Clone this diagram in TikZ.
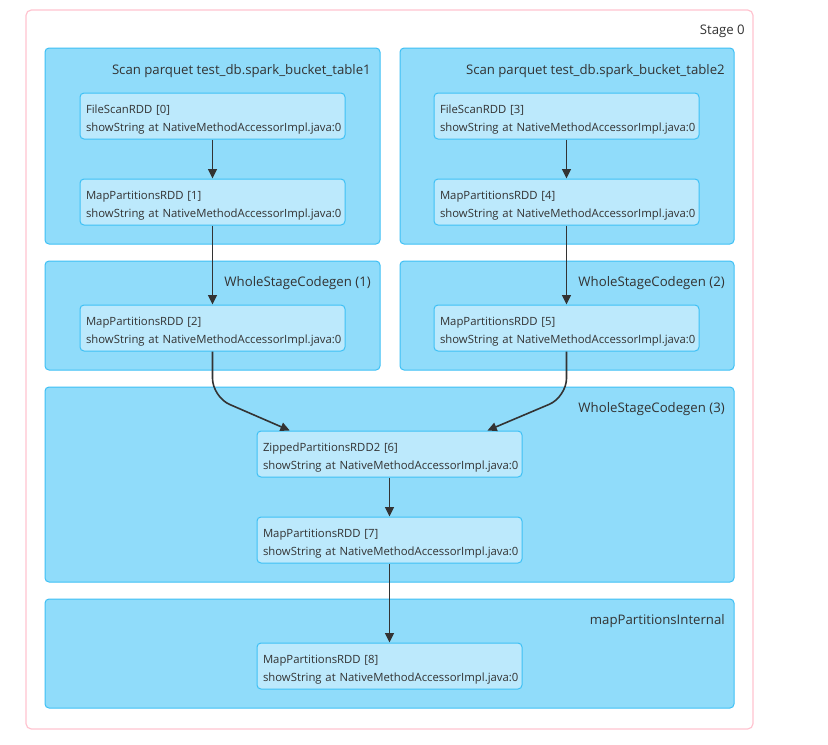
\documentclass[tikz,border=0pt]{standalone}
\usepackage{fontspec}
\setmainfont{Open Sans}
\usetikzlibrary{arrows.meta,calc}
\definecolor{clusterfill}{HTML}{90DCFA}
\definecolor{rddfill}{HTML}{BCE9FC}
\definecolor{rddline}{HTML}{3EC0F5}
\definecolor{stageline}{HTML}{FFC4D0}
\definecolor{txt}{HTML}{333333}
\definecolor{edgec}{HTML}{333333}
\newcommand{\rddtext}[1]{\rule{0pt}{11.5pt}\mbox{#1}\\\mbox{showString at NativeMethodAccessorImpl.java:0}}
\begin{document}
\begin{tikzpicture}[x=0.75pt,y=-0.75pt,
  stagebox/.style={draw=stageline, rounded corners=4pt, line width=0.9pt},
  cluster/.style={draw=rddline, fill=clusterfill, rounded corners=3pt, line width=0.75pt},
  rdd/.style={draw=rddline, fill=rddfill, rounded corners=3pt, line width=0.75pt,
    minimum width=198.75pt, minimum height=34.5pt, text width=189.75pt, align=left,
    inner xsep=4.5pt, inner ysep=0pt, font=\fontsize{8.5pt}{13.5pt}\selectfont, text=txt},
  lbl/.style={anchor=base east, font=\fontsize{9.9pt}{12pt}\selectfont, text=txt, inner sep=0pt},
  edge/.style={draw=edgec, line width=1.2pt, -{Triangle[length=7pt,width=6.5pt]}}]
\useasboundingbox (0,0) rectangle (828,744);
\fill[white] (0,0) rectangle (828,744);
% stage
\draw[stagebox] (26,10) rectangle (753,729);
\node[lbl] (stagelbl) at (745,34) {Stage 0};
% clusters
\draw[cluster] (45,48) rectangle (380,244);
\node[lbl] (c1lbl) at (371,74) {Scan parquet test\_db.spark\_bucket\_table1};
\draw[cluster] (400,48) rectangle (734,244);
\node[lbl] (c2lbl) at (725,74) {Scan parquet test\_db.spark\_bucket\_table2};
\draw[cluster] (45,261) rectangle (380,370);
\node[lbl] (w1lbl) at (371,286) {WholeStageCodegen (1)};
\draw[cluster] (400,261) rectangle (734,370);
\node[lbl] (w2lbl) at (725,286) {WholeStageCodegen (2)};
\draw[cluster] (45,387) rectangle (734,582);
\node[lbl] (w3lbl) at (725,412) {WholeStageCodegen (3)};
\draw[cluster] (45,599) rectangle (734,708);
\node[lbl] (mplbl) at (725,624) {mapPartitionsInternal};
% rdd nodes
\node[rdd] (n0) at (212.5,116) {\rddtext{FileScanRDD [0]}};
\node[rdd] (n1) at (212.5,202) {\rddtext{MapPartitionsRDD [1]}};
\node[rdd] (n2) at (212.5,328) {\rddtext{MapPartitionsRDD [2]}};
\node[rdd] (n3) at (566.5,116) {\rddtext{FileScanRDD [3]}};
\node[rdd] (n4) at (566.5,202) {\rddtext{MapPartitionsRDD [4]}};
\node[rdd] (n5) at (566.5,328) {\rddtext{MapPartitionsRDD [5]}};
\node[rdd] (n6) at (389.5,454) {\rddtext{ZippedPartitionsRDD2 [6]}};
\node[rdd] (n7) at (389.5,540) {\rddtext{MapPartitionsRDD [7]}};
\node[rdd] (n8) at (389.5,666) {\rddtext{MapPartitionsRDD [8]}};
% edges
\draw[edge] (n0) -- (n1);
\draw[edge] (n1) -- (n2);
\draw[edge] (n3) -- (n4);
\draw[edge] (n4) -- (n5);
\draw[edge] (n6) -- (n7);
\draw[edge] (n7) -- (n8);
\coordinate (bendL) at (212.5,397);
\coordinate (bendR) at (566.5,397);
\coordinate (inL) at ($(n6.north west)!0.125!(n6.north east)$);
\coordinate (inR) at ($(n6.north west)!0.868!(n6.north east)$);
\draw[edge, rounded corners=14pt] (n2.south) -- (bendL) -- (inL);
\draw[edge, rounded corners=14pt] (n5.south) -- (bendR) -- (inR);
\end{tikzpicture}
\end{document}
